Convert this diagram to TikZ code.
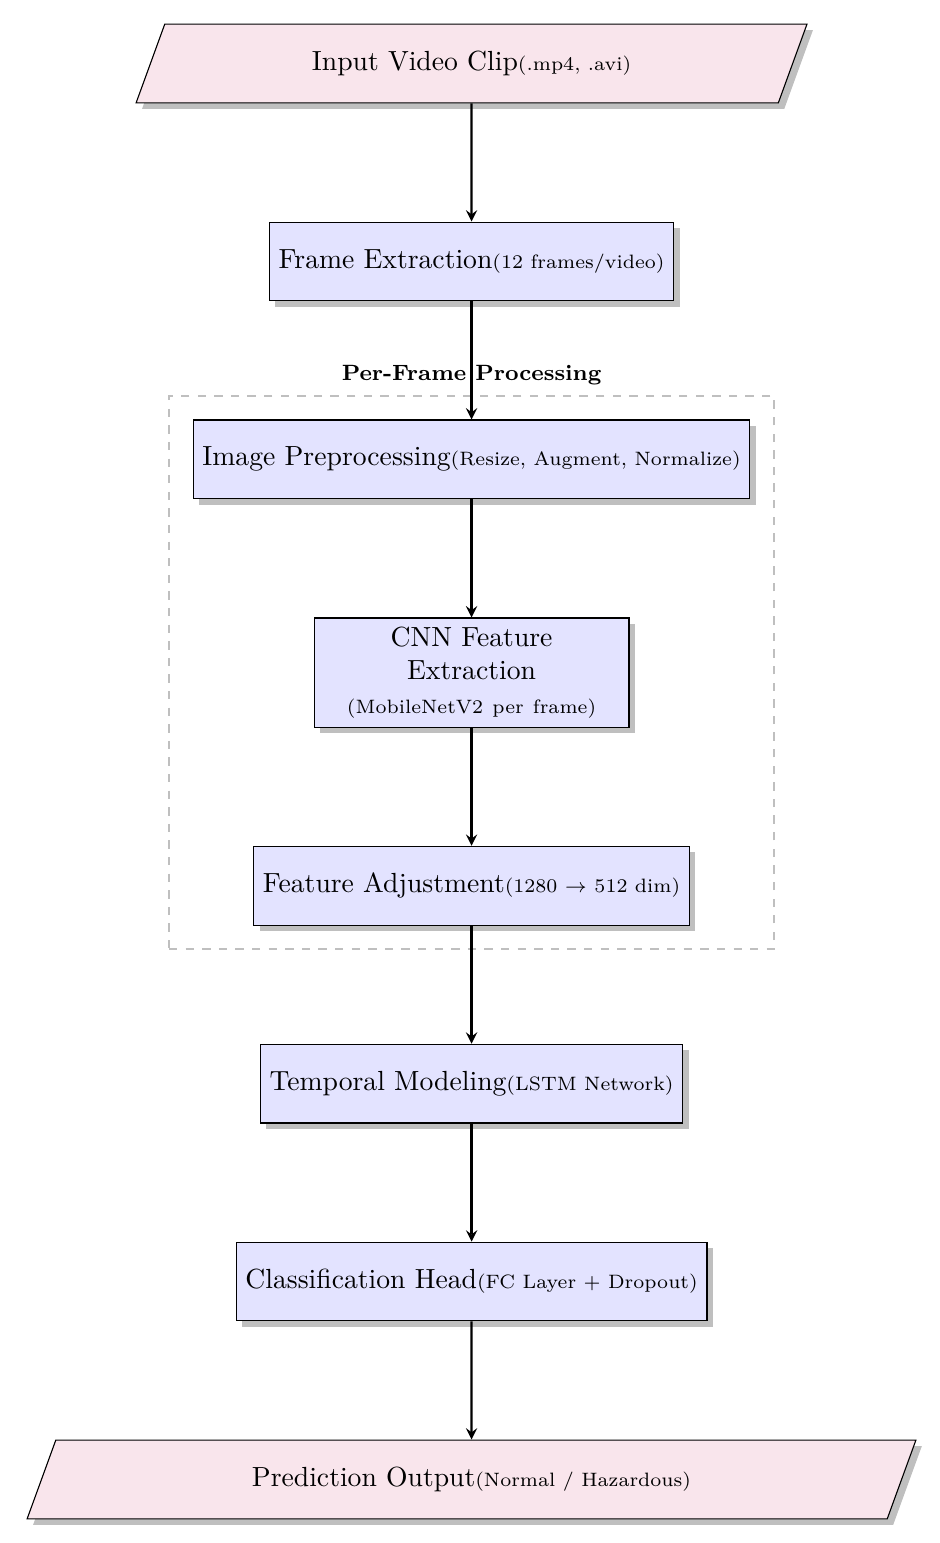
\documentclass[tikz,border=0pt]{standalone}
\usetikzlibrary{shapes.geometric,arrows,positioning,fit,shadows,calc}
\tikzstyle{io}=[
	trapezium,
	trapezium left angle=70,
	trapezium right angle=110,
	minimum width=3cm,
	minimum height=1cm,
	text centered,
	draw=black,
	fill=purple!10,
	drop shadow
]
\tikzstyle{process}=[
	rectangle,
	minimum width=4cm,
	minimum height=1cm,
	text centered,
	draw=black,
	fill=blue!11,
	drop shadow
]
\tikzstyle{arrow}=[
	thick,
	->,
	>=stealth
]
\tikzstyle{group}=[
	rectangle,
	draw=gray!50,
	dashed,
	thick,
	inner sep=0.3cm
]

\begin{document}
\begin{tikzpicture}[node distance=1.5cm]
\node [io] (input) {Input Video Clip{\scriptsize(.mp4, .avi)}};
\node [process] (frames) [below=of input] {Frame Extraction{\scriptsize(12 frames/video)}};
\node [process] (preproc) [below=of frames] {Image Preprocessing{\scriptsize(Resize, Augment, Normalize)}};
\node [process, text width=3.3cm, align=center] (cnn) [below=of preproc] {CNN Feature Extraction\\{\scriptsize(MobileNetV2 per frame)}};
\node [process] (adjust) [below=of cnn] {Feature Adjustment{\scriptsize(1280 $\rightarrow$ 512 dim)}};
\node [process] (temporal) [below=of adjust] {Temporal Modeling{\scriptsize(LSTM Network)}};
\node [process] (classify) [below=of temporal] {Classification Head{\scriptsize(FC Layer + Dropout)}};
\node [io] (output) [below=of classify] {Prediction Output{\scriptsize(Normal / Hazardous)}};

% per-frame block
\node [group, fit=(preproc)(cnn)(adjust)] (perframe) {};
\node [above, font=\footnotesize\bfseries] (perframelabel) at (perframe.north) {Per-Frame Processing};

\draw [arrow] (input) -- (frames);
\draw [arrow] (frames) -- (preproc);
\draw [arrow] (preproc) -- (cnn);
\draw [arrow] (cnn) -- (adjust);
\draw [arrow] (adjust) -- (temporal);
\draw [arrow] (temporal) -- (classify);
\draw [arrow] (classify) -- (output);

\useasboundingbox ($(input.north)+(-5.99cm,0.3cm)$) rectangle ($(output.south)+(5.95cm,-0.3cm)$);
\end{tikzpicture}
\end{document}
